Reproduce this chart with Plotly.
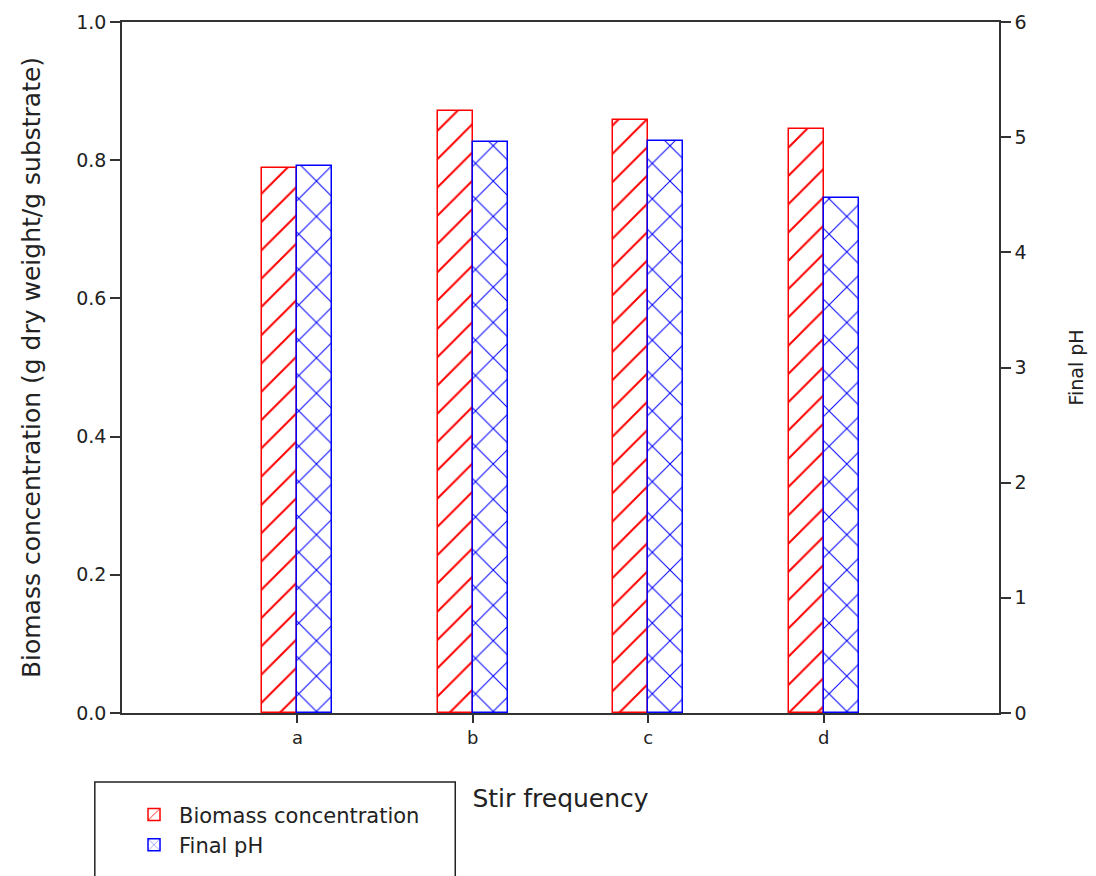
import plotly.graph_objects as go

# Stir-frequency categories and measured values
categories = ["a", "b", "c", "d"]
biomass = [0.789, 0.871, 0.858, 0.845]      # g dry weight / g substrate
final_ph = [4.75, 4.96, 4.97, 4.47]

left_ticks = [0.0, 0.2, 0.4, 0.6, 0.8, 1.0]
right_ticks = [0, 1, 2, 3, 4, 5, 6]

FONT = "DejaVu Sans, Verdana, sans-serif"
AXIS_COLOR = "#333333"

fig = go.Figure()

fig.add_trace(go.Bar(
    x=categories, y=biomass, name="Biomass concentration",
    width=0.2, offset=-0.2,
    marker=dict(color="white", line=dict(color="red", width=1.5),
                pattern=dict(shape="/", fgcolor="red", bgcolor="white",
                             fgopacity=1, size=20, solidity=0.1)),
    yaxis="y",
))

fig.add_trace(go.Bar(
    x=categories, y=final_ph, name="Final pH",
    width=0.2, offset=0.0,
    marker=dict(color="white", line=dict(color="blue", width=1.5),
                pattern=dict(shape="x", fgcolor="blue", bgcolor="white",
                             fgopacity=1, size=25, solidity=0.08)),
    yaxis="y2",
))

fig.update_layout(
    width=1096, height=876,
    margin=dict(l=122, r=97, t=22, b=162),
    paper_bgcolor="white", plot_bgcolor="white",
    font=dict(family=FONT, size=18, color="#222222"),
    barmode="overlay",
    bargap=0,
    xaxis=dict(
        type="category", range=[-1, 4],
        showline=True, linecolor=AXIS_COLOR, linewidth=1.5, mirror=True,
        ticks="outside", ticklen=8, tickcolor=AXIS_COLOR, tickwidth=1.5,
        showgrid=False, zeroline=False,
        tickfont=dict(size=18),
        title=dict(text="Stir frequency", font=dict(size=25), standoff=42),
    ),
    yaxis=dict(
        range=[0, 1], tickvals=left_ticks, tickformat=".1f",
        showline=True, linecolor=AXIS_COLOR, linewidth=1.5,
        ticks="outside", ticklen=10, tickcolor=AXIS_COLOR, tickwidth=1.5,
        showgrid=False, zeroline=False,
        tickfont=dict(size=19),
        title=dict(text="Biomass concentration (g dry weight/g substrate)",
                   font=dict(size=25), standoff=28),
    ),
    yaxis2=dict(
        range=[0, 6], tickvals=right_ticks,
        overlaying="y", side="right",
        showline=True, linecolor=AXIS_COLOR, linewidth=1.5,
        ticks="outside", ticklen=10, tickcolor=AXIS_COLOR, tickwidth=1.5,
        showgrid=False, zeroline=False,
        tickfont=dict(size=19),
        title=dict(text="Final pH", font=dict(size=19), standoff=44),
    ),
    showlegend=True,
    legend=dict(
        x=0.008, y=-0.116, xanchor="left", yanchor="top",
        bgcolor="rgba(0,0,0,0)", borderwidth=0,
        font=dict(size=21),
        itemwidth=40,
    ),
    shapes=[dict(
        type="rect", xref="paper", yref="paper",
        x0=-0.031, x1=0.38, y0=-0.0997, y1=-0.26,
        line=dict(color="#222222", width=1.5), fillcolor="rgba(0,0,0,0)",
    )],
)

fig.write_html("out.html")
